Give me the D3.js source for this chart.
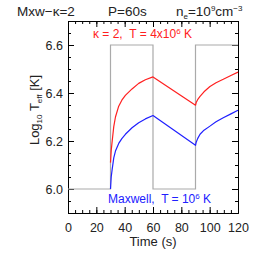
<!DOCTYPE html>
<html>
<head>
<meta charset="utf-8">
<script src="https://cdn.jsdelivr.net/npm/d3@7"></script>
<style>
  body { margin: 0; background: #fff; }
  text { font-family: "Liberation Sans", Arial, sans-serif; white-space: pre; }
</style>
</head>
<body>
<svg id="chart"></svg>
<script>
var w = 258, h = 258;
var mLeft = 68, mRight = 238, mTop = 21, mBottom = 213;

// heating pulse (square wave), time in s
var pulseTimes  = [0, 30, 30, 60, 60, 90, 90, 120];
var pulseValues = [6.0, 6.0, 6.6, 6.6, 6.0, 6.0, 6.6, 6.6];

// log10 Teff curves
var times      = [30, 30.5, 31.2, 32.3, 33.5, 35.8, 38, 40.5, 45.2, 49.9, 54.6, 60,
                  90, 90.5, 91.5, 93.2, 96, 100.2, 104.5, 109.6, 115, 120];
var kappaVals  = [6.11, 6.16, 6.20, 6.26, 6.30, 6.345, 6.37, 6.39, 6.417, 6.44, 6.455, 6.467,
                  6.349, 6.36, 6.372, 6.386, 6.405, 6.427, 6.443, 6.457, 6.473, 6.487];
var maxwellVals = [6.0, 6.05, 6.083, 6.13, 6.158, 6.19, 6.21, 6.228, 6.255, 6.276, 6.292, 6.306,
                  6.182, 6.195, 6.21, 6.228, 6.245, 6.262, 6.28, 6.297, 6.313, 6.328];

var xTicks = [0, 20, 40, 60, 80, 100, 120];
var yTicks = [6.0, 6.2, 6.4, 6.6];

var svg = d3.select("#chart").attr("width", w).attr("height", h);

var x = d3.scaleLinear().domain([0, 120]).range([mLeft, mRight]);
var y = d3.scaleLinear().domain([5.9, 6.7]).range([mBottom, mTop]);

var xMinor = d3.range(0, 121, 5);
var yMinor = d3.range(5.9, 6.701, 0.05);

function styleAxis(g){
  g.selectAll("path").attr("stroke", "#000");
  g.selectAll("line").attr("stroke", "#000");
  g.selectAll("text").attr("font-size", "12.5px").attr("fill", "#222")
    .attr("font-family", "'Liberation Sans', Arial, sans-serif");
}

// minor ticks on all four sides
svg.append("g").attr("transform", "translate(0," + mBottom + ")")
  .call(d3.axisBottom(x).tickValues(xMinor).tickSize(-3).tickSizeOuter(0).tickFormat(""))
  .call(styleAxis);
svg.append("g").attr("transform", "translate(0," + mTop + ")")
  .call(d3.axisTop(x).tickValues(xMinor).tickSize(-3).tickSizeOuter(0).tickFormat(""))
  .call(styleAxis);
svg.append("g").attr("transform", "translate(" + mLeft + ",0)")
  .call(d3.axisLeft(y).tickValues(yMinor).tickSize(-3).tickSizeOuter(0).tickFormat(""))
  .call(styleAxis);
svg.append("g").attr("transform", "translate(" + mRight + ",0)")
  .call(d3.axisRight(y).tickValues(yMinor).tickSize(-3).tickSizeOuter(0).tickFormat(""))
  .call(styleAxis);

// major ticks
svg.append("g").attr("transform", "translate(0," + mBottom + ")")
  .call(d3.axisBottom(x).tickValues(xTicks).tickSize(-6).tickSizeOuter(0).tickPadding(10))
  .call(styleAxis);
svg.append("g").attr("transform", "translate(0," + mTop + ")")
  .call(d3.axisTop(x).tickValues(xTicks).tickSize(-6).tickSizeOuter(0).tickFormat(""))
  .call(styleAxis);
svg.append("g").attr("transform", "translate(" + mLeft + ",0)")
  .call(d3.axisLeft(y).tickValues(yTicks).tickSize(-6).tickSizeOuter(0).tickPadding(5)
    .tickFormat(d3.format(".1f")))
  .call(styleAxis);
svg.append("g").attr("transform", "translate(" + mRight + ",0)")
  .call(d3.axisRight(y).tickValues(yTicks).tickSize(-6).tickSizeOuter(0).tickFormat(""))
  .call(styleAxis);

// pulse
var pulseLine = d3.line().x(function(d, i){ return x(pulseTimes[i]); })
                         .y(function(d){ return y(d); });
svg.append("path").datum(pulseValues)
  .attr("d", pulseLine).attr("fill", "none").attr("stroke", "#aaa").attr("stroke-width", 1.2);

var curve = d3.line().x(function(d, i){ return x(times[i]); })
                     .y(function(d){ return y(d); });
svg.append("path").datum(kappaVals)
  .attr("d", curve).attr("fill", "none").attr("stroke", "#ff2020").attr("stroke-width", 1.2)
  .attr("stroke-linejoin", "round");
svg.append("path").datum(maxwellVals)
  .attr("d", curve).attr("fill", "none").attr("stroke", "#2020ff").attr("stroke-width", 1.2)
  .attr("stroke-linejoin", "round");

// labels
var red = svg.append("text").attr("x", 93).attr("y", 38).attr("fill", "#ff2020").attr("font-size", "12px");
red.append("tspan").text("\u03ba = 2,  T = 4x10");
red.append("tspan").attr("dy", -4).attr("font-size", "8px").text("6");
red.append("tspan").attr("dy", 4).text(" K");

var blue = svg.append("text").attr("x", 108).attr("y", 203).attr("fill", "#2020ff").attr("font-size", "12px");
blue.append("tspan").text("Maxwell,  T = 10");
blue.append("tspan").attr("dy", -4).attr("font-size", "8px").text("6");
blue.append("tspan").attr("dy", 4).text(" K");

svg.append("text").attr("x", (mLeft + mRight) / 2).attr("y", 246)
  .attr("text-anchor", "middle").attr("font-size", "13px").attr("fill", "#222").text("Time (s)");

var yl = svg.append("text").attr("transform", "translate(39,110) rotate(-90)")
  .attr("text-anchor", "middle").attr("font-size", "13px").attr("fill", "#222");
yl.append("tspan").text("Log");
yl.append("tspan").attr("dy", 3).attr("font-size", "8px").text("10");
yl.append("tspan").attr("dy", -3).text(" T");
yl.append("tspan").attr("dy", 3).attr("font-size", "8px").text("eff");
yl.append("tspan").attr("dy", -3).text(" [K]");

// title
svg.append("text").attr("x", 17).attr("y", 16).attr("font-size", "13.5px").attr("fill", "#222")
  .text("Mxw\u2212\u03ba=2");
svg.append("text").attr("x", 108).attr("y", 16).attr("font-size", "13.5px").attr("fill", "#222")
  .text("P=60s");
var ne = svg.append("text").attr("x", 176).attr("y", 16).attr("font-size", "13.5px").attr("fill", "#222");
ne.append("tspan").text("n");
ne.append("tspan").attr("dy", 3).attr("font-size", "8px").text("e");
ne.append("tspan").attr("dy", -3).text("=10");
ne.append("tspan").attr("dy", -5).attr("font-size", "8px").text("9");
ne.append("tspan").attr("dy", 5).text("cm");
ne.append("tspan").attr("dy", -5).attr("font-size", "8px").text("\u22123");
</script>
</body>
</html>
